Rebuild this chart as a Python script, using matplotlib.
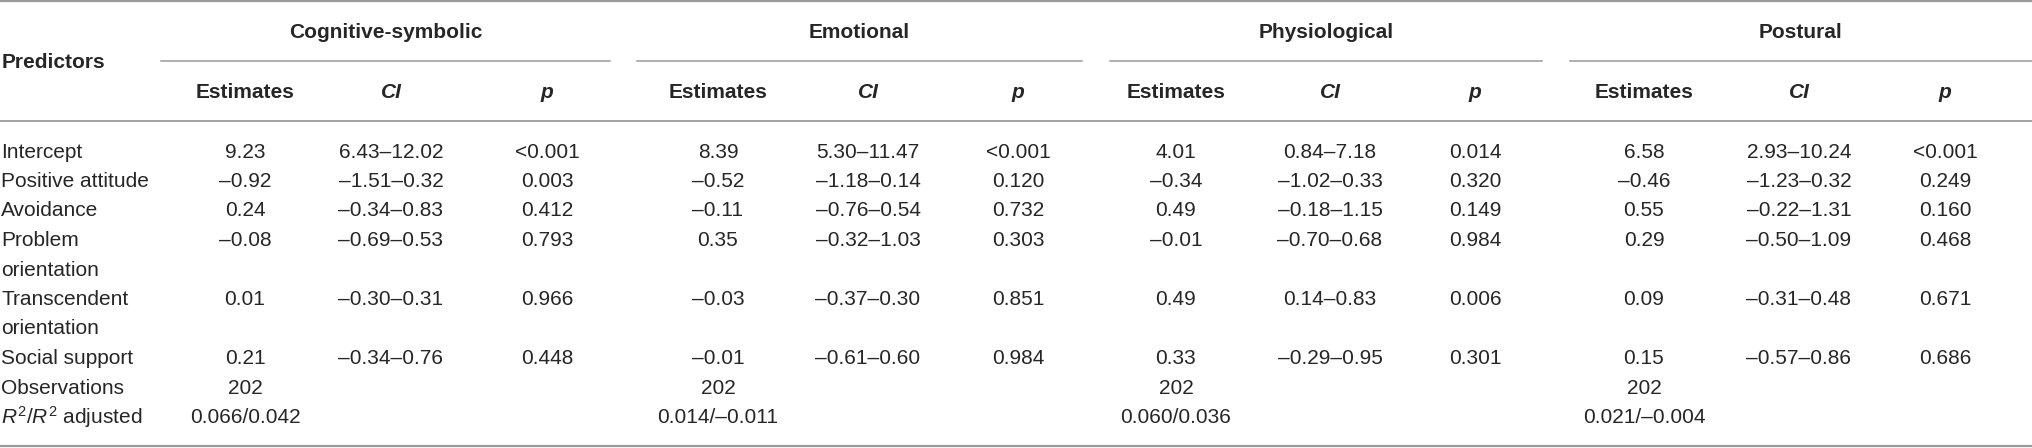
import matplotlib
matplotlib.use("Agg")
import matplotlib.pyplot as plt

plt.rcParams['font.family'] = ['Liberation Sans', 'DejaVu Sans']
plt.rcParams['mathtext.fontset'] = 'custom'
plt.rcParams['mathtext.rm'] = 'Liberation Sans'
plt.rcParams['mathtext.it'] = 'Liberation Sans:italic'

D = "\u2013"

groups = ["Cognitive-symbolic", "Emotional", "Physiological", "Postural"]
subheads = ["Estimates", "CI", "p"]

row_labels = ["Intercept", "Positive attitude", "Avoidance", "Problem\norientation",
              "Transcendent\norientation", "Social support", "Observations",
              "$R^2$/$R^2$ adjusted"]

cog_est = ["9.23", D + "0.92", "0.24", D + "0.08", "0.01", "0.21", "202", "0.066/0.042"]
cog_ci = ["6.43" + D + "12.02", D + "1.51" + D + "0.32", D + "0.34" + D + "0.83",
          D + "0.69" + D + "0.53", D + "0.30" + D + "0.31", D + "0.34" + D + "0.76", "", ""]
cog_p = ["<0.001", "0.003", "0.412", "0.793", "0.966", "0.448", "", ""]

emo_est = ["8.39", D + "0.52", D + "0.11", "0.35", D + "0.03", D + "0.01", "202", "0.014/" + D + "0.011"]
emo_ci = ["5.30" + D + "11.47", D + "1.18" + D + "0.14", D + "0.76" + D + "0.54",
          D + "0.32" + D + "1.03", D + "0.37" + D + "0.30", D + "0.61" + D + "0.60", "", ""]
emo_p = ["<0.001", "0.120", "0.732", "0.303", "0.851", "0.984", "", ""]

phy_est = ["4.01", D + "0.34", "0.49", D + "0.01", "0.49", "0.33", "202", "0.060/0.036"]
phy_ci = ["0.84" + D + "7.18", D + "1.02" + D + "0.33", D + "0.18" + D + "1.15",
          D + "0.70" + D + "0.68", "0.14" + D + "0.83", D + "0.29" + D + "0.95", "", ""]
phy_p = ["0.014", "0.320", "0.149", "0.984", "0.006", "0.301", "", ""]

pos_est = ["6.58", D + "0.46", "0.55", "0.29", "0.09", "0.15", "202", "0.021/" + D + "0.004"]
pos_ci = ["2.93" + D + "10.24", D + "1.23" + D + "0.32", D + "0.22" + D + "1.31",
          D + "0.50" + D + "1.09", D + "0.31" + D + "0.48", D + "0.57" + D + "0.86", "", ""]
pos_p = ["<0.001", "0.249", "0.160", "0.468", "0.671", "0.686", "", ""]

columns = [cog_est, cog_ci, cog_p, emo_est, emo_ci, emo_p,
           phy_est, phy_ci, phy_p, pos_est, pos_ci, pos_p]

# layout (pixel coordinates)
W, H = 2032, 448
col_x = [245, 391, 547, 718, 868, 1018, 1176, 1330, 1475, 1644, 1799, 1945]
group_span = [(161, 610), (637, 1082), (1110, 1542), (1570, 2032)]
row_line = [0, 1, 2, 3, 5, 7, 8, 9]
y0, step = 152, 29.5

txt = "#262626"
rule = "#9a9a9a"
fs = 15

fig = plt.figure(figsize=(W / 100, H / 100), dpi=100)
ax = fig.add_axes([0, 0, 1, 1])
ax.set_xlim(0, W)
ax.set_ylim(H, 0)
ax.axis("off")

# rules
ax.plot([0, W], [1.5, 1.5], color=rule, lw=1.6)
ax.plot([0, W], [121, 121], color=rule, lw=1.3)
ax.plot([0, W], [446, 446], color=rule, lw=1.6)
for (a, b), g in zip(group_span, groups):
    ax.plot([a, b], [61, 61], color=rule, lw=1.1)
    ax.text((a + b) / 2, 33, g, ha="center", va="center", fontsize=fs,
            fontweight="bold", color=txt)

ax.text(2, 62, "Predictors", ha="left", va="center", fontsize=fs,
        fontweight="bold", color=txt)

for i, x in enumerate(col_x):
    s = subheads[i % 3]
    style = "normal" if s == "Estimates" else "italic"
    ax.text(x, 92, s, ha="center", va="center", fontsize=fs, fontweight="bold",
            fontstyle=style, color=txt)

for r, lab in enumerate(row_labels):
    y = y0 + row_line[r] * step
    parts = lab.split("\n")
    for k, p in enumerate(parts):
        ax.text(1, y + k * step, p, ha="left", va="center", fontsize=fs, color=txt)
    for x, col in zip(col_x, columns):
        if col[r]:
            ax.text(x, y, col[r], ha="center", va="center", fontsize=fs, color=txt)

fig.savefig("out.png", dpi=100)
